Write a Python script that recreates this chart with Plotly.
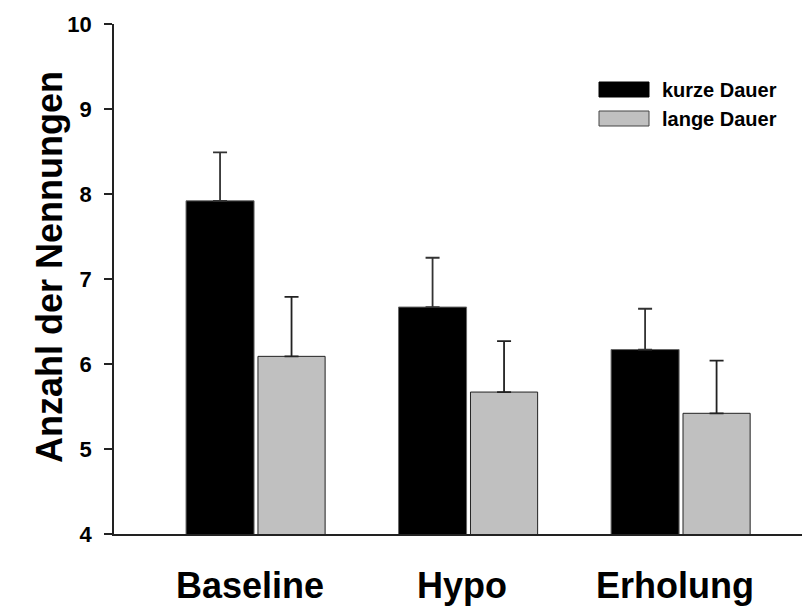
import plotly.graph_objects as go

categories = ["Baseline", "Hypo", "Erholung"]
series_names = ["kurze Dauer", "lange Dauer"]
kurze_vals = [7.92, 6.67, 6.17]
kurze_err = [0.57, 0.58, 0.48]
lange_vals = [6.09, 5.67, 5.42]
lange_err = [0.70, 0.60, 0.62]
y_ticks = [4, 5, 6, 7, 8, 9, 10]

FONT = "Liberation Sans, Arial, sans-serif"
xpos = list(range(len(categories)))

# page body has an 8px margin; figure placed at (8, 8)
PL, PT, PW, PH = 114, 24, 696, 510  # plot area in page pixels

fig = go.Figure()
fig.add_trace(go.Bar(
    x=xpos, y=kurze_vals, base=0, width=0.32, offset=-0.329,
    marker=dict(color="#000000", line=dict(color="#666666", width=1)),
    error_y=dict(type="data", array=kurze_err, arrayminus=[0]*3, symmetric=False,
                 color="#333333", thickness=1.8, width=7),
    name=series_names[0], showlegend=False,
))
fig.add_trace(go.Bar(
    x=xpos, y=lange_vals, base=0, width=0.316, offset=0.0094,
    marker=dict(color="#c0c0c0", line=dict(color="#222222", width=1)),
    error_y=dict(type="data", array=lange_err, arrayminus=[0]*3, symmetric=False,
                 color="#222222", thickness=1.8, width=7),
    name=series_names[1], showlegend=False,
))

fig.update_layout(
    width=802, height=598,
    margin=dict(l=106, r=0, t=16, b=72),
    paper_bgcolor="white", plot_bgcolor="white",
    barmode="overlay",
    xaxis=dict(range=[-0.668, 2.607], showticklabels=False, ticks="",
               showgrid=False, zeroline=False, showline=True,
               linecolor="#222222", linewidth=1.5),
    yaxis=dict(range=[4, 10], tickvals=y_ticks, ticks="outside", ticklen=8,
               tickwidth=1.5, tickcolor="#222222",
               showgrid=False, zeroline=False, showline=True,
               linecolor="#222222", linewidth=1.5,
               tickfont=dict(family=FONT, size=22, color="#000000", weight="bold"),
               ticklabelstandoff=8),
    showlegend=False,
)

# axis title
fig.add_annotation(text="<b>Anzahl der Nennungen</b>", textangle=-90,
                   xref="paper", yref="paper", x=(49 - PL) / PW, y=1 - (267 - PT) / PH,
                   xanchor="center", yanchor="middle", showarrow=False,
                   font=dict(family=FONT, size=36, color="#000000"))

# category labels
for i, c in enumerate(categories):
    fig.add_annotation(text="<b>" + c + "</b>", x=i - 0.03, xref="x",
                       y=0, yref="paper", yshift=-51, yanchor="middle",
                       showarrow=False,
                       font=dict(family=FONT, size=36, color="#000000"))

# legend
leg_colors = ["#000000", "#c0c0c0"]
leg_lines = ["#000000", "#444444"]
for j, (nm, col, lc) in enumerate(zip(series_names, leg_colors, leg_lines)):
    ytop = 82 + j * 29
    fig.add_shape(type="rect", xref="paper", yref="paper",
                  x0=(599 - PL) / PW, x1=(649 - PL) / PW,
                  y0=1 - (ytop - PT) / PH, y1=1 - (ytop + 15 - PT) / PH,
                  fillcolor=col, line=dict(color=lc, width=1))
    fig.add_annotation(text="<b>" + nm + "</b>", xref="paper", yref="paper",
                       x=(660 - PL) / PW, y=1 - (ytop + 7.5 - PT) / PH,
                       xanchor="left", yanchor="middle", showarrow=False,
                       font=dict(family=FONT, size=20, color="#000000"))

fig.write_html("out.html")
